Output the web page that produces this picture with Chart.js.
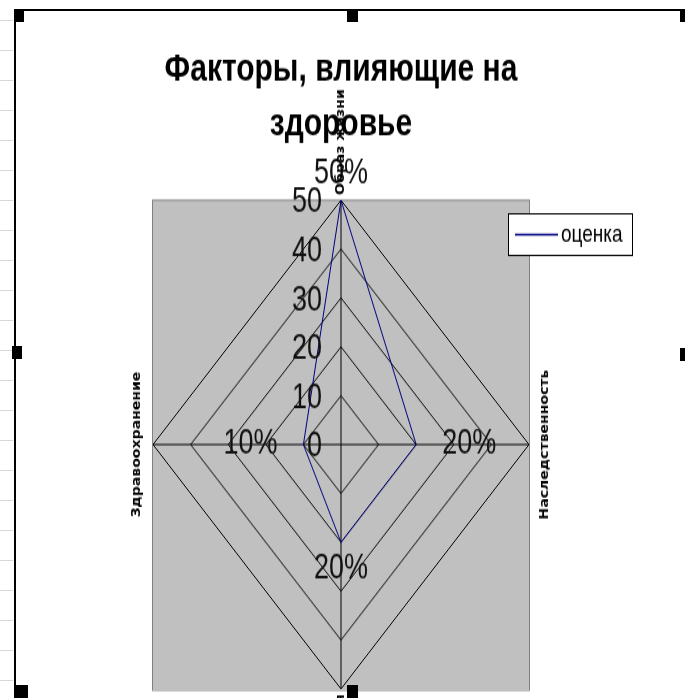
<!DOCTYPE html>
<html>
<head>
<meta charset="utf-8">
<script src="https://cdn.jsdelivr.net/npm/chart.js@4.4.0/dist/chart.umd.min.js"></script>
<style>
  html, body { margin: 0; padding: 0; background: #fff; }
  #wrap { position: relative; width: 685px; height: 698px; overflow: hidden; }
  #c { position: absolute; left: 0; top: 0; }
  #filas { position: absolute; left: 0; top: 0; width: 13px; height: 698px;
           background: repeating-linear-gradient(to bottom, transparent 0 20px, #d8d8d8 20px 21px, transparent 21px 30px); }
  .marco { position: absolute; background: #000; }
  .asa { position: absolute; background: #000; }
</style>
</head>
<body>
<div id="wrap">
  <div id="filas"></div>
  <!-- el lienzo se dibuja mas bajo y se estira en vertical, como en la captura -->
  <canvas id="c" width="685" height="537" style="width:685px;height:698px"></canvas>
  <div class="marco" style="left:14px;top:9px;width:2px;height:689px"></div>
  <div class="marco" style="left:14px;top:9px;width:671px;height:2px"></div>
  <div class="asa" style="left:14px;top:10px;width:10px;height:12px"></div>
  <div class="asa" style="left:347px;top:10px;width:11px;height:12px"></div>
  <div class="asa" style="left:680px;top:10px;width:5px;height:12px"></div>
  <div class="asa" style="left:12px;top:346px;width:10px;height:13px"></div>
  <div class="asa" style="left:680px;top:348px;width:5px;height:13px"></div>
  <div class="asa" style="left:16px;top:685px;width:12px;height:13px"></div>
  <div class="asa" style="left:347px;top:685px;width:11px;height:13px"></div>
</div>
<script>
// datos del grafico
const categorias = ['Образ жизни', 'Наследственность', 'Экология', 'Здравоохранение'];
const valores = [50, 20, 20, 10];
const etiquetas = ['50%', '20%', '20%', '10%'];
const marcas = [0, 10, 20, 30, 40, 50];
const nombreSerie = 'оценка';

const fuente = "'Liberation Sans', Arial, sans-serif";
const fuenteEstrecha = "'Liberation Sans Narrow', 'Arial Narrow', 'DejaVu Sans Condensed', sans-serif";

// fondo gris cuadrado detras del radar
const fondoGris = {
  id: 'fondoGris',
  beforeDraw(chart) {
    const s = chart.scales.r;
    const r = s.drawingArea;
    const ctx = chart.ctx;
    ctx.save();
    ctx.fillStyle = '#c0c0c0';
    ctx.fillRect(s.xCenter - r, s.yCenter - r, r * 2, r * 2);
    ctx.strokeStyle = '#808080';
    ctx.lineWidth = 1;
    ctx.strokeRect(s.xCenter - r - 0.5, s.yCenter - r, r * 2 + 1, r * 2 + 1);
    ctx.restore();
  }
};

// textos: marcas del eje, etiquetas de datos, categorias y leyenda
const textos = {
  id: 'textos',
  afterDraw(chart) {
    const s = chart.scales.r;
    const ctx = chart.ctx;
    const r = s.drawingArea;
    ctx.save();

    // numeros del eje a la izquierda del eje de arriba
    ctx.fillStyle = '#111';
    ctx.font = '27px ' + fuente;
    ctx.textAlign = 'right';
    ctx.textBaseline = 'middle';
    s.ticks.forEach(t => {
      const d = s.getDistanceFromCenterForValue(t.value);
      ctx.fillText(String(t.value), s.xCenter - 19, s.yCenter - d + 2);
    });

    // etiquetas de datos
    ctx.textAlign = 'center';
    valores.forEach((v, i) => {
      const p = s.getPointPositionForValue(i, v);
      const x = p.x + Math.cos(p.angle) * 53;
      const y = p.y + Math.sin(p.angle) * 20;
      ctx.fillText(etiquetas[i], x, y);
    });

    // nombres de categoria, girados
    ctx.fillStyle = '#000';
    ctx.font = 'bold 12px ' + fuenteEstrecha;
    ctx.textBaseline = 'middle';
    categorias.forEach((c, i) => {
      const horizontal = i % 2 === 1;
      const p = s.getPointPosition(i, horizontal ? r + 16 : r + 4);
      ctx.save();
      ctx.translate(p.x, p.y);
      ctx.rotate(-Math.PI / 2);
      if (horizontal) ctx.textAlign = 'center';
      else if (i === 0) ctx.textAlign = 'left';
      else ctx.textAlign = 'right';
      ctx.fillText(c, 0, 0);
      ctx.restore();
    });

    // leyenda
    const lx = 508, ly = 164, lw = 124, lh = 32;
    ctx.fillStyle = '#fff';
    ctx.fillRect(lx, ly, lw, lh);
    ctx.strokeStyle = '#000';
    ctx.lineWidth = 1;
    ctx.strokeRect(lx + 0.5, ly + 0.5, lw, lh);
    ctx.strokeStyle = chart.data.datasets[0].borderColor;
    ctx.lineWidth = 1.5;
    ctx.beginPath();
    ctx.moveTo(lx + 7, ly + lh / 2 + 0.5);
    ctx.lineTo(lx + 50, ly + lh / 2 + 0.5);
    ctx.stroke();
    ctx.fillStyle = '#000';
    ctx.font = '19px ' + fuente;
    ctx.textAlign = 'left';
    ctx.textBaseline = 'middle';
    ctx.fillText(chart.data.datasets[0].label, lx + 53, ly + lh / 2 + 1);

    ctx.restore();
  }
};

new Chart(document.getElementById('c'), {
  type: 'radar',
  data: {
    labels: categorias,
    datasets: [{
      label: nombreSerie,
      data: valores,
      borderColor: '#000080',
      borderWidth: 1,
      backgroundColor: 'transparent',
      fill: false,
      pointRadius: 0,
      tension: 0
    }]
  },
  options: {
    responsive: false,
    animation: false,
    devicePixelRatio: 1,
    layout: { padding: { left: 0, right: 3, top: 0, bottom: 7 } },
    plugins: {
      legend: { display: false },
      tooltip: { enabled: false },
      title: {
        display: true,
        text: ['Факторы, влияющие на', 'здоровье'],
        color: '#000',
        font: { family: fuente, size: 30, weight: 'bold', lineHeight: 1.4 },
        padding: { top: 33, bottom: 37 }
      }
    },
    scales: {
      r: {
        min: 0,
        max: 50,
        afterBuildTicks: s => { s.ticks = marcas.map(v => ({ value: v })); },
        ticks: { display: false, stepSize: 10 },
        grid: { color: '#000', lineWidth: 1, circular: false },
        angleLines: { color: '#000', lineWidth: 1 },
        pointLabels: { display: false }
      }
    }
  },
  plugins: [fondoGris, textos]
});
</script>
</body>
</html>
